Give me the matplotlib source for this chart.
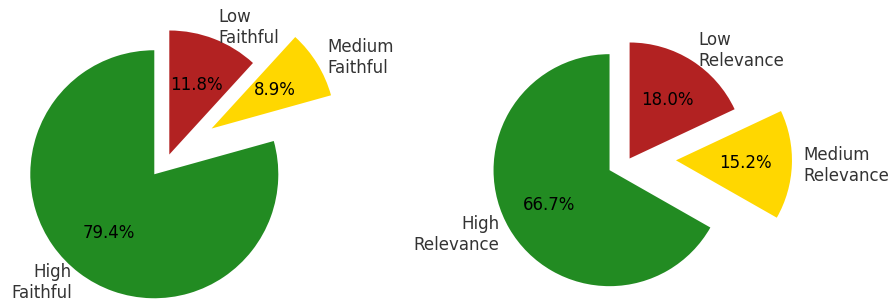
import matplotlib
matplotlib.use("Agg")
import matplotlib.pyplot as plt

faith_labels = ["Low\nFaithful", "Medium\nFaithful", "High\nFaithful"]
faith_values = [11.8, 8.9, 79.4]
rel_labels = ["Low\nRelevance", "Medium\nRelevance", "High\nRelevance"]
rel_values = [18.0, 15.2, 66.7]
colors = ["firebrick", "gold", "forestgreen"]
explode = [0.0, 0.4, 0.2]

W, H = 893, 303
fig = plt.figure(figsize=(W / 100, H / 100), dpi=100)

def add_pie(cx, cy, r, values, labels):
    L = 1.8
    size = 2 * L * r
    ax = fig.add_axes([(cx - size / 2) / W, ((H - cy) - size / 2) / H, size / W, size / H])
    shown = iter(values)
    wedges, texts, autotexts = ax.pie(values, labels=labels, colors=colors, explode=explode,
                                      autopct=lambda p: f"{next(shown):.1f}%",
                                      startangle=90, counterclock=False,
                                      textprops={"fontsize": 12})
    for t in texts:
        t.set_color("#333333")
    for t in autotexts:
        t.set_color("black")
    ax.set_xlim(-L, L)
    ax.set_ylim(-L, L)
    ax.set_aspect("equal")
    ax.axis("off")
    return ax

add_pie(169.3, 154.5, 124, faith_values, faith_labels)
add_pie(629.6, 158.5, 116, rel_values, rel_labels)

fig.savefig("out.png", dpi=100)
